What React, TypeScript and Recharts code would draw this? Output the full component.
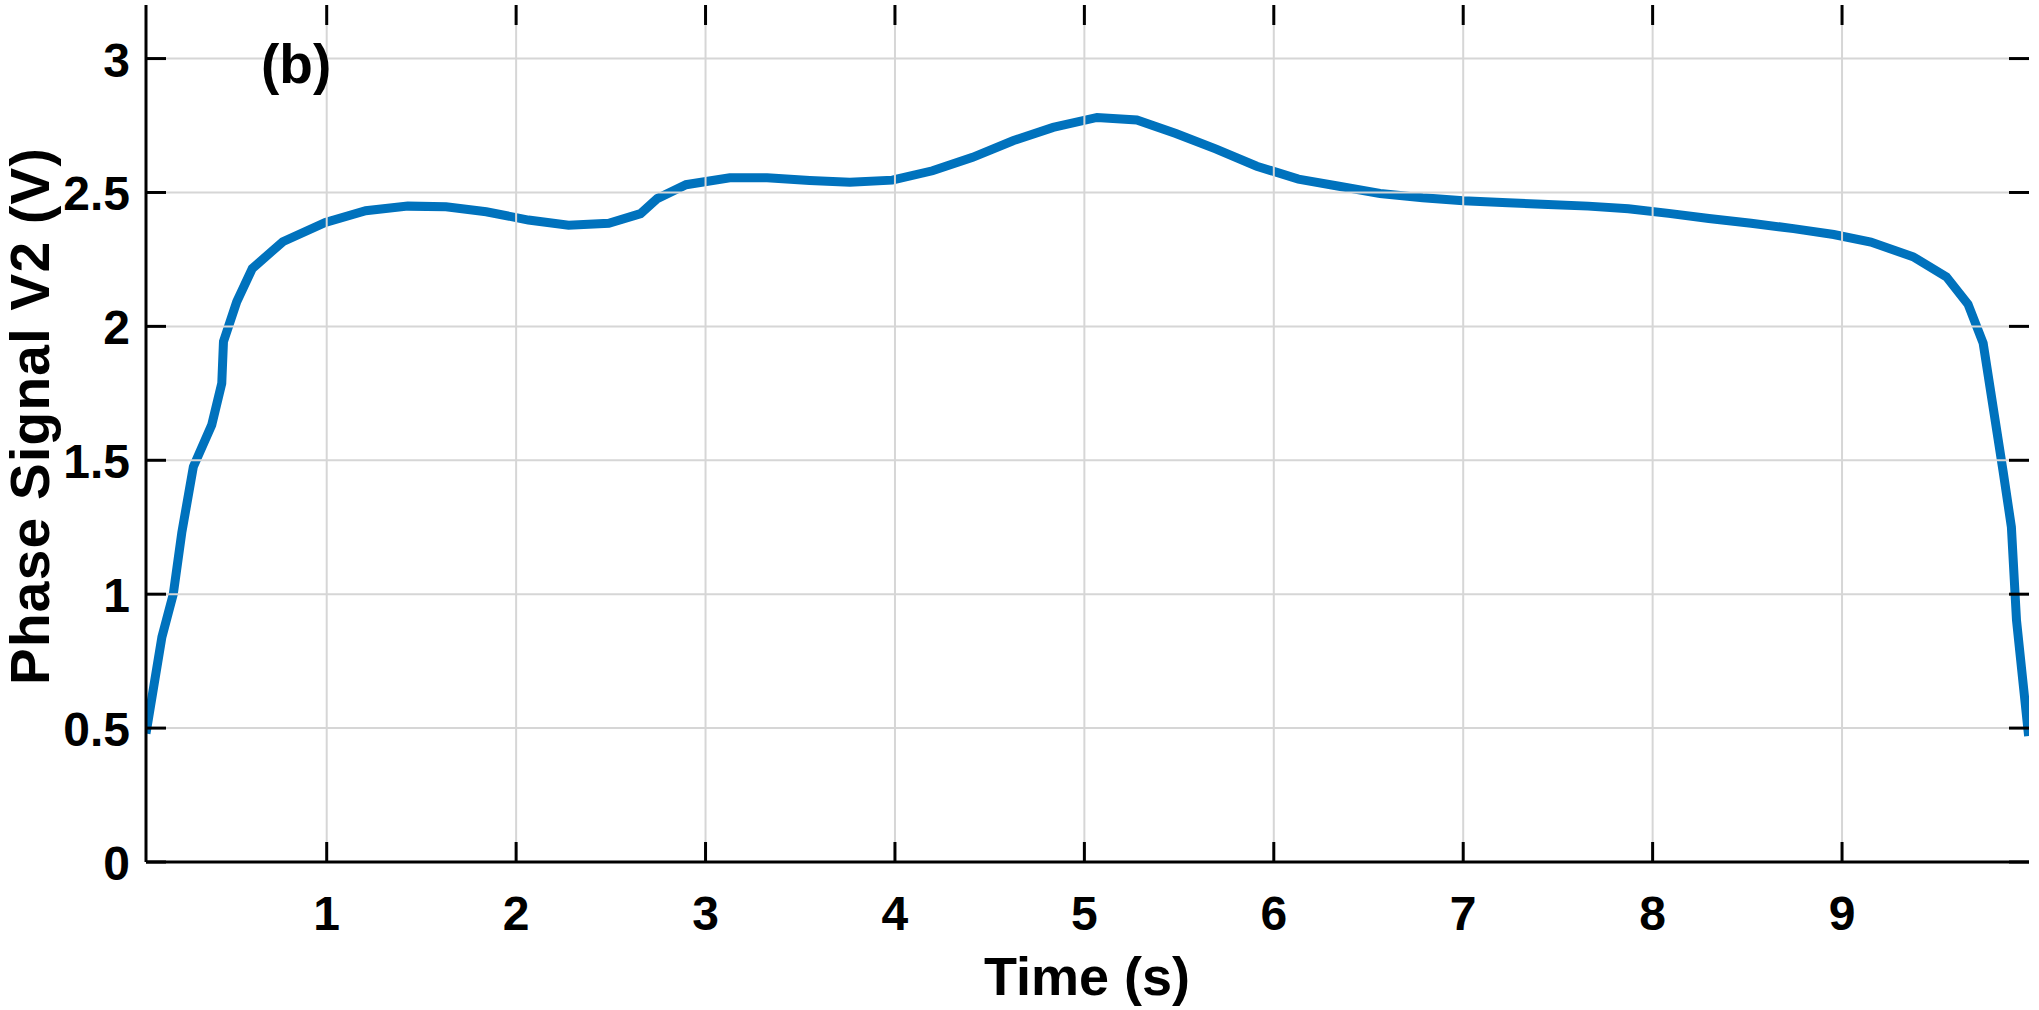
import { LineChart, Line, XAxis, YAxis } from "recharts";

// time (s)
const timeS = [
  0.046, 0.13, 0.19, 0.235, 0.296, 0.393, 0.446, 0.455, 0.525, 0.607, 0.768,
  0.993, 1.206, 1.428, 1.63, 1.842, 2.065, 2.277, 2.489, 2.657, 2.745, 2.897,
  3.128, 3.325, 3.55, 3.762, 3.986, 4.198, 4.41, 4.623, 4.835, 5.067, 5.277,
  5.483, 5.696, 5.91, 6.13, 6.337, 6.561, 6.786, 7.0, 7.236, 7.448, 7.66,
  7.872, 8.085, 8.297, 8.52, 8.744, 8.956, 9.152, 9.375, 9.551, 9.665, 9.745,
  9.85, 9.894, 9.921, 9.985,
];

// phase signal V2 (V)
const phaseV2 = [
  0.48, 0.84, 1.0, 1.23, 1.476, 1.632, 1.787, 1.943, 2.092, 2.216, 2.316,
  2.388, 2.432, 2.449, 2.447, 2.428, 2.397, 2.378, 2.385, 2.421, 2.477, 2.529,
  2.555, 2.555, 2.545, 2.538, 2.546, 2.581, 2.631, 2.693, 2.743, 2.78, 2.771,
  2.72, 2.662, 2.598, 2.55, 2.524, 2.496, 2.48, 2.469, 2.462, 2.455, 2.449,
  2.439, 2.422, 2.403, 2.385, 2.365, 2.343, 2.315, 2.26, 2.185, 2.083, 1.937,
  1.46, 1.251, 0.903, 0.47,
];

const xTicks = [1, 2, 3, 4, 5, 6, 7, 8, 9];
const yTicks = [0, 0.5, 1, 1.5, 2, 2.5, 3];

const data = timeS.map((t, i) => ({ t, v: phaseV2[i] }));

const font = "'Liberation Sans', Arial, Helvetica, sans-serif";
const axisPen = { stroke: "#000", strokeWidth: 3 };
const gridPen = { stroke: "#d6d6d6", strokeWidth: 2 };

const W = 2039;
const H = 1010;
const M = { top: 5, right: 10, left: 0, bottom: 0 };
const Y_AXIS_W = 146;
const X_AXIS_H = 148;
const PLOT_TOP = M.top;
const PLOT_BOTTOM = H - X_AXIS_H;
const PLOT_LEFT = Y_AXIS_W;
const PLOT_RIGHT = W - M.right;
const TICK_LEN = 20;
const TICK_FONT = 48;

// grid line + MATLAB-style inward ticks on both sides, drawn with the label
const BottomTick = (props: any) => {
  const { x, payload } = props;
  const cx = payload.coordinate ?? x;
  return (
    <g>
      <line x1={cx} x2={cx} y1={PLOT_TOP + TICK_LEN} y2={PLOT_BOTTOM - TICK_LEN} {...gridPen} />
      <line x1={cx} x2={cx} y1={PLOT_BOTTOM} y2={PLOT_BOTTOM - TICK_LEN} {...axisPen} />
      <line x1={cx} x2={cx} y1={PLOT_TOP} y2={PLOT_TOP + TICK_LEN} {...axisPen} />
      <text
        x={cx}
        y={PLOT_BOTTOM + 68}
        textAnchor="middle"
        fontSize={TICK_FONT}
        fontWeight={700}
        fontFamily={font}
        fill="#000"
      >
        {payload.value}
      </text>
    </g>
  );
};

const LeftTick = (props: any) => {
  const { y, payload } = props;
  const cy = payload.coordinate ?? y;
  return (
    <g>
      {payload.value > 0 && (
        <line x1={PLOT_LEFT + TICK_LEN} x2={PLOT_RIGHT - TICK_LEN} y1={cy} y2={cy} {...gridPen} />
      )}
      <line x1={PLOT_LEFT} x2={PLOT_LEFT + TICK_LEN} y1={cy} y2={cy} {...axisPen} />
      <line x1={PLOT_RIGHT} x2={PLOT_RIGHT - TICK_LEN} y1={cy} y2={cy} {...axisPen} />
      <text
        x={PLOT_LEFT - 16}
        y={cy + 18}
        textAnchor="end"
        fontSize={TICK_FONT}
        fontWeight={700}
        fontFamily={font}
        fill="#000"
      >
        {payload.value}
      </text>
    </g>
  );
};

export default function App() {
  return (
    <div style={{ position: "absolute", left: 0, top: 0, width: W, height: H, background: "#fff" }}>
      <LineChart width={W} height={H} data={data} margin={M}>
        <XAxis
          dataKey="t"
          type="number"
          domain={[0.046, 9.987]}
          ticks={xTicks}
          allowDataOverflow
          height={X_AXIS_H}
          tick={<BottomTick />}
          tickLine={false}
          axisLine={axisPen}
        />
        <XAxis
          xAxisId="top"
          orientation="top"
          dataKey="t"
          type="number"
          domain={[0.046, 9.987]}
          ticks={xTicks}
          height={0}
          tick={false}
          tickLine={false}
          axisLine={axisPen}
        />
        <YAxis
          type="number"
          domain={[0, 3.2]}
          ticks={yTicks}
          allowDataOverflow
          width={Y_AXIS_W}
          tick={<LeftTick />}
          tickLine={false}
          axisLine={axisPen}
        />
        <YAxis
          yAxisId="right"
          orientation="right"
          type="number"
          domain={[0, 3.2]}
          ticks={yTicks}
          width={0}
          tick={false}
          tickLine={false}
          axisLine={axisPen}
        />
        <Line
          type="linear"
          dataKey="v"
          stroke="#0072BD"
          strokeWidth={9}
          dot={false}
          isAnimationActive={false}
        />
      </LineChart>
      <svg
        width={W}
        height={H}
        style={{ position: "absolute", left: 0, top: 0, pointerEvents: "none" }}
      >
        <text x={261} y={83} fontSize={55} fontWeight={700} fontFamily={font} fill="#000">
          (b)
        </text>
        <text
          x={1087}
          y={995}
          fontSize={54}
          fontWeight={700}
          fontFamily={font}
          fill="#000"
          textAnchor="middle"
        >
          Time (s)
        </text>
        <text
          transform="translate(49,416) rotate(-90)"
          fontSize={55}
          fontWeight={700}
          fontFamily={font}
          letterSpacing={1.3}
          fill="#000"
          textAnchor="middle"
        >
          Phase Signal V2 (V)
        </text>
      </svg>
    </div>
  );
}
